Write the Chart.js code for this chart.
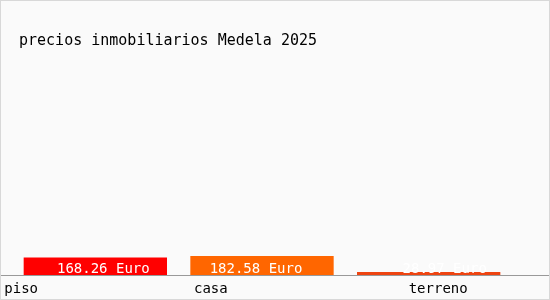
<!DOCTYPE html>
<html>
<head>
<meta charset="utf-8">
<script src="https://cdn.jsdelivr.net/npm/chart.js@4/dist/chart.umd.min.js"></script>
<style>
    html, body { margin: 0; padding: 0; background: #fafafa; }
    #wrap { width: 548px; height: 298px; border: 1px solid #d8d8d8; position: relative; }
    canvas { display: block; }
</style>
</head>
<body>
<div id="wrap"><canvas id="precios" width="548" height="298"></canvas></div>
<script>
const titulo = 'precios inmobiliarios Medela 2025';
const categorias = ['piso', 'casa', 'terreno'];
const precios = [168.26, 182.58, 28.97];
const colores = ['#ff0000', '#ff6600', '#ee4411'];
const etiquetas = precios.map(p => p.toFixed(2) + ' Euro');

const fuente = '"DejaVu Sans Mono", monospace';

// textos: titulo, valores dentro de las barras y etiquetas de categoria
const textos = {
    id: 'textos',
    afterDatasetsDraw(chart) {
        const ctx = chart.ctx;
        const area = chart.chartArea;
        const meta = chart.getDatasetMeta(0);
        ctx.save();

        ctx.fillStyle = '#000';
        ctx.font = '15px ' + fuente;
        ctx.textAlign = 'left';
        ctx.textBaseline = 'alphabetic';
        ctx.fillText(titulo, 18, 44);

        // linea base
        ctx.strokeStyle = '#999';
        ctx.lineWidth = 1;
        ctx.beginPath();
        ctx.moveTo(0, area.bottom + 0.5);
        ctx.lineTo(chart.width, area.bottom + 0.5);
        ctx.stroke();

        ctx.font = '14px ' + fuente;
        ctx.textBaseline = 'middle';
        const corrimiento = [8, -6, 16];
        meta.data.forEach((bar, i) => {
            ctx.fillStyle = '#fff';
            ctx.textAlign = 'center';
            ctx.fillText(etiquetas[i], bar.x + corrimiento[i], area.bottom - 6);
        });

        // etiquetas del eje x
        ctx.fillStyle = '#000';
        ctx.textAlign = 'left';
        const desplazamiento = [-91, -68, -20];
        meta.data.forEach((bar, i) => {
            ctx.fillText(categorias[i], bar.x + desplazamiento[i], area.bottom + 14);
        });
        ctx.restore();
    }
};

new Chart(document.getElementById('precios'), {
    type: 'bar',
    data: {
        labels: categorias,
        datasets: [{
            data: precios,
            backgroundColor: colores,
            borderWidth: 0,
            categoryPercentage: 1,
            barPercentage: 0.86
        }]
    },
    options: {
        responsive: false,
        animation: false,
        layout: { padding: { left: 11, right: 37, top: 66, bottom: 24 } },
        plugins: {
            legend: { display: false },
            title: { display: false },
            tooltip: { enabled: false }
        },
        scales: {
            x: { display: false },
            y: { display: false, min: 0, max: 2000 }
        }
    },
    plugins: [textos]
});
</script>
</body>
</html>
